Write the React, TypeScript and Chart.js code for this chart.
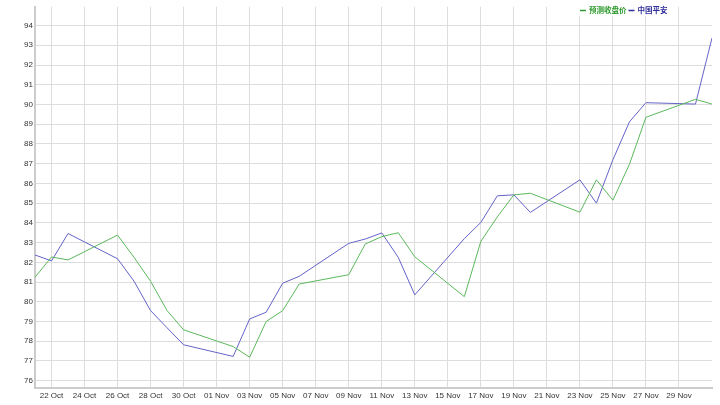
import React, { useEffect, useRef } from "react";
import { Chart, registerables } from "chart.js";

Chart.register(...registerables);

// Day index: 0 = 21 Oct 2020
const days = [0, 1, 2, 5, 6, 7, 8, 9, 12, 13, 14, 15, 16, 19, 20, 21, 22, 23, 26, 27, 28, 29, 30, 33, 34, 35, 36, 37, 40, 41];
const predicted = [81.24, 82.27, 82.12, 83.38, 82.25, 81.04, 79.55, 78.58, 77.73, 77.19, 79.0, 79.55, 80.9, 81.37, 82.93, 83.3, 83.5, 82.28, 80.26, 83.06, 84.3, 85.42, 85.5, 84.54, 86.18, 85.15, 86.97, 89.35, 90.26, 90.02];
const pingan = [82.37, 82.07, 83.46, 82.18, 81.04, 79.55, 78.68, 77.82, 77.23, 79.13, 79.47, 80.94, 81.29, 82.96, 83.18, 83.49, 82.25, 80.35, 83.2, 84.02, 85.37, 85.42, 84.53, 86.18, 85.0, 87.2, 89.12, 90.09, 90.02, 93.37];
const tickDays = [1, 3, 5, 7, 9, 11, 13, 15, 17, 19, 21, 23, 25, 27, 29, 31, 33, 35, 37, 39];
const tickLabels = ["22 Oct", "24 Oct", "26 Oct", "28 Oct", "30 Oct", "01 Nov", "03 Nov", "05 Nov", "07 Nov", "09 Nov", "11 Nov", "13 Nov", "15 Nov", "17 Nov", "19 Nov", "21 Nov", "23 Nov", "25 Nov", "27 Nov", "29 Nov"];
const seriesNames = ["预测收盘价", "中国平安"];

const GREEN_LINE = "#5cb85c";
const BLUE_LINE = "#6464c8";
const GREEN_TEXT = "#2e9a2e";
const BLUE_TEXT = "#2e2e9a";
const FONT = "'Liberation Sans', Arial, sans-serif";

export default function App() {
  const ref = useRef<HTMLCanvasElement | null>(null);
  useEffect(() => {
    document.body.style.margin = "0";
    const legendPlugin = {
      id: "customLegend",
      afterDraw(chart: any) {
        const ctx = chart.ctx;
        ctx.save();
        ctx.font = "bold 7.5px 'Noto Sans CJK SC', sans-serif";
        ctx.textBaseline = "middle";
        const items = [
          { t: seriesNames[0], c: GREEN_TEXT },
          { t: seriesNames[1], c: BLUE_TEXT },
        ];
        let x = 580;
        const y = 10.5;
        ctx.fillStyle = "#fff";
        ctx.fillRect(578, 4, 92, 12);
        for (const it of items) {
          ctx.strokeStyle = it.c;
          ctx.lineWidth = 1.5;
          ctx.beginPath();
          ctx.moveTo(x, y);
          ctx.lineTo(x + 6, y);
          ctx.stroke();
          ctx.fillStyle = it.c;
          ctx.fillText(it.t, x + 9, y);
          x += 9 + ctx.measureText(it.t).width + 2;
        }
        ctx.restore();
      },
    };
    const chart = new Chart(ref.current!, {
      type: "line",
      data: {
        datasets: [
          {
            label: seriesNames[0],
            data: days.map((d, i) => ({ x: d, y: predicted[i] })),
            borderColor: GREEN_LINE,
            borderWidth: 1,
            pointRadius: 0,
            tension: 0,
          },
          {
            label: seriesNames[1],
            data: days.map((d, i) => ({ x: d, y: pingan[i] })),
            borderColor: BLUE_LINE,
            borderWidth: 1,
            pointRadius: 0,
            tension: 0,
          },
        ],
      },
      options: {
        animation: false,
        responsive: false,
        layout: { padding: { top: 5, right: 8, left: 0, bottom: 0 } },
        plugins: { legend: { display: false }, tooltip: { enabled: false } },
        scales: {
          x: {
            type: "linear",
            min: 0,
            max: 41,
            afterBuildTicks(scale: any) {
              scale.ticks = tickDays.map((v) => ({ value: v }));
            },
            afterFit(scale: any) {
              scale.height = 17;
            },
            ticks: {
              autoSkip: false,
              maxRotation: 0,
              padding: 3,
              color: "#333",
              font: { size: 8, family: FONT },
              callback(v: any) {
                const i = tickDays.indexOf(Number(v));
                return i >= 0 ? tickLabels[i] : "";
              },
            },
            grid: { color: "#dddddd", drawTicks: false, lineWidth: 1 },
            border: { color: "#cccccc", width: 2 },
          },
          y: {
            min: 75.63,
            max: 94.95,
            afterFit(scale: any) {
              scale.width = 35;
            },
            ticks: {
              stepSize: 1,
              includeBounds: false,
              padding: 2,
              color: "#333",
              font: { size: 8, family: FONT },
            },
            grid: { color: "#dddddd", drawTicks: false, lineWidth: 1 },
            border: { color: "#cccccc", width: 2 },
          },
        },
      },
      plugins: [legendPlugin],
    } as any);
    return () => chart.destroy();
  }, []);
  return (
    <div style={{ width: 720, height: 405 }}>
      <canvas ref={ref} width={720} height={405} style={{ display: "block" }} />
    </div>
  );
}
